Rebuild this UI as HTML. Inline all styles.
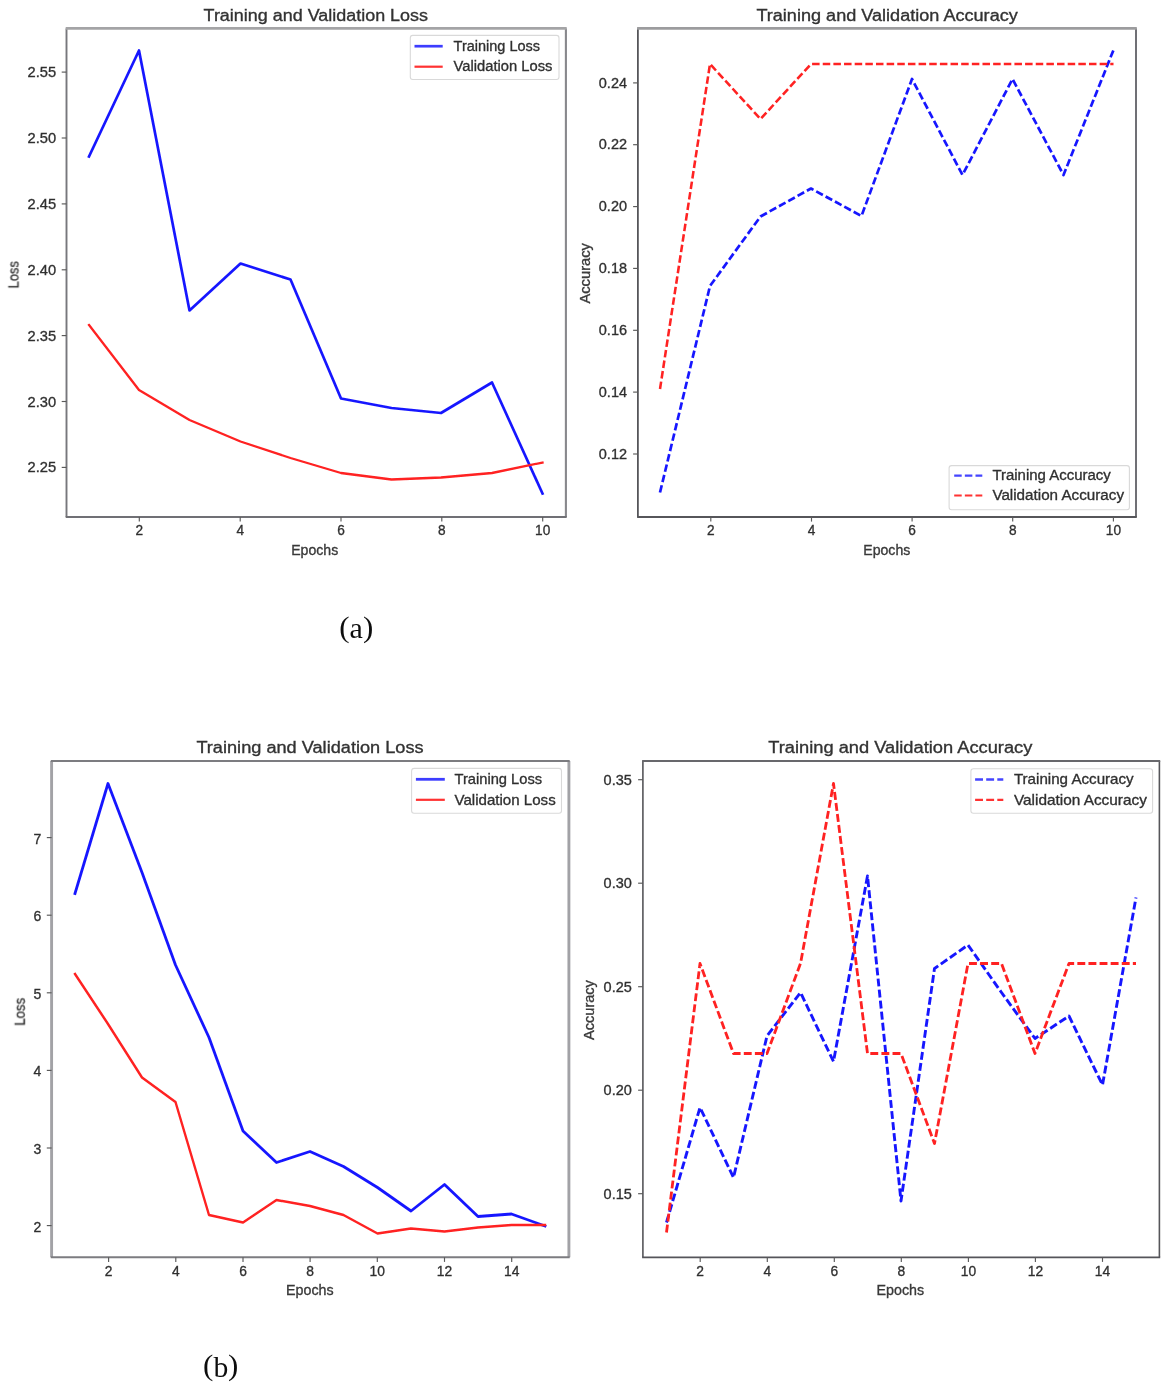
<!DOCTYPE html>
<html><head><meta charset="utf-8"><title>Training curves</title>
<style>html,body{margin:0;padding:0;background:#fff;}svg{display:block;}text{font-kerning:normal;}.w text{stroke:#303030;stroke-width:0.32px;}</style>
</head><body>
<svg width="1170" height="1388" viewBox="0 0 1170 1388">
<defs><filter id="soft" x="-2%" y="-2%" width="104%" height="104%"><feGaussianBlur stdDeviation="0.55"/></filter></defs>
<rect x="0" y="0" width="1170" height="1388" fill="#ffffff"/>
<g filter="url(#soft)" class="w">
<g>
<line x1="66.5" y1="28.4" x2="66.5" y2="517.0" stroke="#77777b" stroke-width="1.9"/>
<line x1="565.9" y1="28.4" x2="565.9" y2="517.0" stroke="#88888c" stroke-width="2.1"/>
<line x1="65.7" y1="28.4" x2="566.7" y2="28.4" stroke="#a4a4a6" stroke-width="2.6"/>
<line x1="65.7" y1="517.0" x2="566.7" y2="517.0" stroke="#707074" stroke-width="1.9"/>
<line x1="139.3" y1="517.0" x2="139.3" y2="521.6" stroke="#5a5a5a" stroke-width="1.15"/>
<text x="139.3" y="535.2" font-size="14.4" text-anchor="middle" fill="#303030" font-family='"Liberation Sans", sans-serif' textLength="7.6" lengthAdjust="spacingAndGlyphs">2</text>
<line x1="240.2" y1="517.0" x2="240.2" y2="521.6" stroke="#5a5a5a" stroke-width="1.15"/>
<text x="240.2" y="535.2" font-size="14.4" text-anchor="middle" fill="#303030" font-family='"Liberation Sans", sans-serif' textLength="7.6" lengthAdjust="spacingAndGlyphs">4</text>
<line x1="341.0" y1="517.0" x2="341.0" y2="521.6" stroke="#5a5a5a" stroke-width="1.15"/>
<text x="341.0" y="535.2" font-size="14.4" text-anchor="middle" fill="#303030" font-family='"Liberation Sans", sans-serif' textLength="7.6" lengthAdjust="spacingAndGlyphs">6</text>
<line x1="441.8" y1="517.0" x2="441.8" y2="521.6" stroke="#5a5a5a" stroke-width="1.15"/>
<text x="441.8" y="535.2" font-size="14.4" text-anchor="middle" fill="#303030" font-family='"Liberation Sans", sans-serif' textLength="7.6" lengthAdjust="spacingAndGlyphs">8</text>
<line x1="542.7" y1="517.0" x2="542.7" y2="521.6" stroke="#5a5a5a" stroke-width="1.15"/>
<text x="542.7" y="535.2" font-size="14.4" text-anchor="middle" fill="#303030" font-family='"Liberation Sans", sans-serif' textLength="15.2" lengthAdjust="spacingAndGlyphs">10</text>
<line x1="61.7" y1="467.4" x2="66.5" y2="467.4" stroke="#5a5a5a" stroke-width="1.15"/>
<text x="56.2" y="472.4" font-size="14.4" text-anchor="end" fill="#303030" font-family='"Liberation Sans", sans-serif' textLength="28.6" lengthAdjust="spacingAndGlyphs">2.25</text>
<line x1="61.7" y1="401.5" x2="66.5" y2="401.5" stroke="#5a5a5a" stroke-width="1.15"/>
<text x="56.2" y="406.6" font-size="14.4" text-anchor="end" fill="#303030" font-family='"Liberation Sans", sans-serif' textLength="28.6" lengthAdjust="spacingAndGlyphs">2.30</text>
<line x1="61.7" y1="335.6" x2="66.5" y2="335.6" stroke="#5a5a5a" stroke-width="1.15"/>
<text x="56.2" y="340.7" font-size="14.4" text-anchor="end" fill="#303030" font-family='"Liberation Sans", sans-serif' textLength="28.6" lengthAdjust="spacingAndGlyphs">2.35</text>
<line x1="61.7" y1="269.8" x2="66.5" y2="269.8" stroke="#5a5a5a" stroke-width="1.15"/>
<text x="56.2" y="274.8" font-size="14.4" text-anchor="end" fill="#303030" font-family='"Liberation Sans", sans-serif' textLength="28.6" lengthAdjust="spacingAndGlyphs">2.40</text>
<line x1="61.7" y1="203.9" x2="66.5" y2="203.9" stroke="#5a5a5a" stroke-width="1.15"/>
<text x="56.2" y="208.9" font-size="14.4" text-anchor="end" fill="#303030" font-family='"Liberation Sans", sans-serif' textLength="28.6" lengthAdjust="spacingAndGlyphs">2.45</text>
<line x1="61.7" y1="138.0" x2="66.5" y2="138.0" stroke="#5a5a5a" stroke-width="1.15"/>
<text x="56.2" y="143.0" font-size="14.4" text-anchor="end" fill="#303030" font-family='"Liberation Sans", sans-serif' textLength="28.6" lengthAdjust="spacingAndGlyphs">2.50</text>
<line x1="61.7" y1="72.1" x2="66.5" y2="72.1" stroke="#5a5a5a" stroke-width="1.15"/>
<text x="56.2" y="77.1" font-size="14.4" text-anchor="end" fill="#303030" font-family='"Liberation Sans", sans-serif' textLength="28.6" lengthAdjust="spacingAndGlyphs">2.55</text>
<text x="314.7" y="554.7" font-size="14.4" text-anchor="middle" fill="#3c3c3c" font-family='"Liberation Sans", sans-serif' textLength="47.0" lengthAdjust="spacingAndGlyphs">Epochs</text>
<text x="18.3" y="274.8" font-size="14.4" text-anchor="middle" fill="#3c3c3c" font-family='"Liberation Sans", sans-serif' textLength="27.0" lengthAdjust="spacingAndGlyphs" transform="rotate(-90 18.3 274.8)">Loss</text>
<text x="203.6" y="20.7" font-size="15.6" text-anchor="start" fill="#333" font-family='"Liberation Sans", sans-serif' textLength="224.4" lengthAdjust="spacingAndGlyphs">Training and Validation Loss</text>
<polyline points="89.0,156.5 139.0,50.5 189.5,310.5 240.5,263.5 290.5,279.5 341.0,398.5 391.5,408.0 441.0,413.0 492.0,382.5 542.5,493.5" fill="none" stroke="#1818ff" stroke-width="2.7" stroke-linejoin="round" stroke-linecap="square"/>
<polyline points="89.0,325.0 139.0,390.0 189.5,420.0 240.5,441.5 290.5,458.0 341.0,473.0 391.5,479.5 441.0,477.5 492.0,473.0 542.5,462.5" fill="none" stroke="#ff2020" stroke-width="2.3" stroke-linejoin="round" stroke-linecap="square"/>
<rect x="410.3" y="35.4" width="148.7" height="44.1" rx="2.5" fill="#fff" fill-opacity="0.8" stroke="#d9d9d9" stroke-width="1.1"/>
<line x1="414.5" y1="46.2" x2="442.7" y2="46.2" stroke="#3c3cff" stroke-width="2.7"/>
<text x="453.6" y="50.9" font-size="14.0" text-anchor="start" fill="#303030" font-family='"Liberation Sans", sans-serif' textLength="86.5" lengthAdjust="spacingAndGlyphs">Training Loss</text>
<line x1="414.5" y1="66.7" x2="442.7" y2="66.7" stroke="#ff3030" stroke-width="2.2"/>
<text x="453.6" y="71.4" font-size="14.0" text-anchor="start" fill="#303030" font-family='"Liberation Sans", sans-serif' textLength="98.8" lengthAdjust="spacingAndGlyphs">Validation Loss</text>
</g>
<g>
<line x1="637.9" y1="28.4" x2="637.9" y2="517.0" stroke="#4e4e52" stroke-width="1.7"/>
<line x1="1136.0" y1="28.4" x2="1136.0" y2="517.0" stroke="#707074" stroke-width="2.0"/>
<line x1="637.1" y1="28.4" x2="1136.8" y2="28.4" stroke="#9c9c9e" stroke-width="2.6"/>
<line x1="637.1" y1="517.0" x2="1136.8" y2="517.0" stroke="#56565a" stroke-width="1.8"/>
<line x1="710.8" y1="517.0" x2="710.8" y2="521.6" stroke="#5a5a5a" stroke-width="1.15"/>
<text x="710.8" y="535.2" font-size="14.4" text-anchor="middle" fill="#303030" font-family='"Liberation Sans", sans-serif' textLength="7.6" lengthAdjust="spacingAndGlyphs">2</text>
<line x1="811.5" y1="517.0" x2="811.5" y2="521.6" stroke="#5a5a5a" stroke-width="1.15"/>
<text x="811.5" y="535.2" font-size="14.4" text-anchor="middle" fill="#303030" font-family='"Liberation Sans", sans-serif' textLength="7.6" lengthAdjust="spacingAndGlyphs">4</text>
<line x1="912.1" y1="517.0" x2="912.1" y2="521.6" stroke="#5a5a5a" stroke-width="1.15"/>
<text x="912.1" y="535.2" font-size="14.4" text-anchor="middle" fill="#303030" font-family='"Liberation Sans", sans-serif' textLength="7.6" lengthAdjust="spacingAndGlyphs">6</text>
<line x1="1012.7" y1="517.0" x2="1012.7" y2="521.6" stroke="#5a5a5a" stroke-width="1.15"/>
<text x="1012.7" y="535.2" font-size="14.4" text-anchor="middle" fill="#303030" font-family='"Liberation Sans", sans-serif' textLength="7.6" lengthAdjust="spacingAndGlyphs">8</text>
<line x1="1113.4" y1="517.0" x2="1113.4" y2="521.6" stroke="#5a5a5a" stroke-width="1.15"/>
<text x="1113.4" y="535.2" font-size="14.4" text-anchor="middle" fill="#303030" font-family='"Liberation Sans", sans-serif' textLength="15.2" lengthAdjust="spacingAndGlyphs">10</text>
<line x1="633.1" y1="454.0" x2="637.9" y2="454.0" stroke="#5a5a5a" stroke-width="1.15"/>
<text x="627.0" y="458.6" font-size="14.4" text-anchor="end" fill="#303030" font-family='"Liberation Sans", sans-serif' textLength="28.2" lengthAdjust="spacingAndGlyphs">0.12</text>
<line x1="633.1" y1="392.1" x2="637.9" y2="392.1" stroke="#5a5a5a" stroke-width="1.15"/>
<text x="627.0" y="396.8" font-size="14.4" text-anchor="end" fill="#303030" font-family='"Liberation Sans", sans-serif' textLength="28.2" lengthAdjust="spacingAndGlyphs">0.14</text>
<line x1="633.1" y1="330.3" x2="637.9" y2="330.3" stroke="#5a5a5a" stroke-width="1.15"/>
<text x="627.0" y="334.9" font-size="14.4" text-anchor="end" fill="#303030" font-family='"Liberation Sans", sans-serif' textLength="28.2" lengthAdjust="spacingAndGlyphs">0.16</text>
<line x1="633.1" y1="268.4" x2="637.9" y2="268.4" stroke="#5a5a5a" stroke-width="1.15"/>
<text x="627.0" y="273.1" font-size="14.4" text-anchor="end" fill="#303030" font-family='"Liberation Sans", sans-serif' textLength="28.2" lengthAdjust="spacingAndGlyphs">0.18</text>
<line x1="633.1" y1="206.6" x2="637.9" y2="206.6" stroke="#5a5a5a" stroke-width="1.15"/>
<text x="627.0" y="211.2" font-size="14.4" text-anchor="end" fill="#303030" font-family='"Liberation Sans", sans-serif' textLength="28.2" lengthAdjust="spacingAndGlyphs">0.20</text>
<line x1="633.1" y1="144.7" x2="637.9" y2="144.7" stroke="#5a5a5a" stroke-width="1.15"/>
<text x="627.0" y="149.4" font-size="14.4" text-anchor="end" fill="#303030" font-family='"Liberation Sans", sans-serif' textLength="28.2" lengthAdjust="spacingAndGlyphs">0.22</text>
<line x1="633.1" y1="82.9" x2="637.9" y2="82.9" stroke="#5a5a5a" stroke-width="1.15"/>
<text x="627.0" y="87.5" font-size="14.4" text-anchor="end" fill="#303030" font-family='"Liberation Sans", sans-serif' textLength="28.2" lengthAdjust="spacingAndGlyphs">0.24</text>
<text x="886.8" y="554.7" font-size="14.4" text-anchor="middle" fill="#3c3c3c" font-family='"Liberation Sans", sans-serif' textLength="47.0" lengthAdjust="spacingAndGlyphs">Epochs</text>
<text x="589.6" y="273.3" font-size="14.4" text-anchor="middle" fill="#3c3c3c" font-family='"Liberation Sans", sans-serif' textLength="60.5" lengthAdjust="spacingAndGlyphs" transform="rotate(-90 589.6 273.3)">Accuracy</text>
<text x="756.4" y="20.5" font-size="15.6" text-anchor="start" fill="#333" font-family='"Liberation Sans", sans-serif' textLength="261.4" lengthAdjust="spacingAndGlyphs">Training and Validation Accuracy</text>
<polyline points="660.0,492.5 710.0,286.0 760.5,216.5 811.0,188.5 861.5,216.0 912.0,79.0 962.5,175.0 1012.5,79.0 1063.5,175.0 1113.5,50.0" fill="none" stroke="#1818ff" stroke-width="2.7" stroke-linejoin="round" stroke-linecap="butt" stroke-dasharray="7.5 3.15"/>
<polyline points="660.0,389.0 710.0,64.0 760.5,119.0 811.0,64.0 1113.5,64.0" fill="none" stroke="#ff2020" stroke-width="2.55" stroke-linejoin="round" stroke-linecap="butt" stroke-dasharray="7.5 3.15"/>
<rect x="949.1" y="465.6" width="180.3" height="44.1" rx="2.5" fill="#fff" fill-opacity="0.8" stroke="#d9d9d9" stroke-width="1.1"/>
<line x1="954.2" y1="475.6" x2="982.3" y2="475.6" stroke="#4444ff" stroke-width="2.4" stroke-dasharray="7.5 3.15"/>
<text x="992.4" y="480.4" font-size="14.0" text-anchor="start" fill="#303030" font-family='"Liberation Sans", sans-serif' textLength="118.4" lengthAdjust="spacingAndGlyphs">Training Accuracy</text>
<line x1="954.2" y1="495.5" x2="982.3" y2="495.5" stroke="#ff3030" stroke-width="2.2" stroke-dasharray="7.5 3.15"/>
<text x="992.4" y="500.2" font-size="14.0" text-anchor="start" fill="#303030" font-family='"Liberation Sans", sans-serif' textLength="131.6" lengthAdjust="spacingAndGlyphs">Validation Accuracy</text>
</g>
<g>
<line x1="51.6" y1="761.0" x2="51.6" y2="1257.3" stroke="#a2a2a6" stroke-width="2.9"/>
<line x1="568.9" y1="761.0" x2="568.9" y2="1257.3" stroke="#a2a2a6" stroke-width="2.9"/>
<line x1="50.8" y1="761.0" x2="569.7" y2="761.0" stroke="#7c7c80" stroke-width="2.2"/>
<line x1="50.8" y1="1257.3" x2="569.7" y2="1257.3" stroke="#7c7c80" stroke-width="2.1"/>
<line x1="108.6" y1="1257.3" x2="108.6" y2="1261.9" stroke="#5a5a5a" stroke-width="1.15"/>
<text x="108.6" y="1275.8" font-size="14.5" text-anchor="middle" fill="#303030" font-family='"Liberation Sans", sans-serif' textLength="7.7" lengthAdjust="spacingAndGlyphs">2</text>
<line x1="175.8" y1="1257.3" x2="175.8" y2="1261.9" stroke="#5a5a5a" stroke-width="1.15"/>
<text x="175.8" y="1275.8" font-size="14.5" text-anchor="middle" fill="#303030" font-family='"Liberation Sans", sans-serif' textLength="7.7" lengthAdjust="spacingAndGlyphs">4</text>
<line x1="243.0" y1="1257.3" x2="243.0" y2="1261.9" stroke="#5a5a5a" stroke-width="1.15"/>
<text x="243.0" y="1275.8" font-size="14.5" text-anchor="middle" fill="#303030" font-family='"Liberation Sans", sans-serif' textLength="7.7" lengthAdjust="spacingAndGlyphs">6</text>
<line x1="310.1" y1="1257.3" x2="310.1" y2="1261.9" stroke="#5a5a5a" stroke-width="1.15"/>
<text x="310.1" y="1275.8" font-size="14.5" text-anchor="middle" fill="#303030" font-family='"Liberation Sans", sans-serif' textLength="7.7" lengthAdjust="spacingAndGlyphs">8</text>
<line x1="377.3" y1="1257.3" x2="377.3" y2="1261.9" stroke="#5a5a5a" stroke-width="1.15"/>
<text x="377.3" y="1275.8" font-size="14.5" text-anchor="middle" fill="#303030" font-family='"Liberation Sans", sans-serif' textLength="15.4" lengthAdjust="spacingAndGlyphs">10</text>
<line x1="444.5" y1="1257.3" x2="444.5" y2="1261.9" stroke="#5a5a5a" stroke-width="1.15"/>
<text x="444.5" y="1275.8" font-size="14.5" text-anchor="middle" fill="#303030" font-family='"Liberation Sans", sans-serif' textLength="15.4" lengthAdjust="spacingAndGlyphs">12</text>
<line x1="511.7" y1="1257.3" x2="511.7" y2="1261.9" stroke="#5a5a5a" stroke-width="1.15"/>
<text x="511.7" y="1275.8" font-size="14.5" text-anchor="middle" fill="#303030" font-family='"Liberation Sans", sans-serif' textLength="15.4" lengthAdjust="spacingAndGlyphs">14</text>
<line x1="46.8" y1="1225.6" x2="51.6" y2="1225.6" stroke="#5a5a5a" stroke-width="1.15"/>
<text x="41.4" y="1231.5" font-size="14.5" text-anchor="end" fill="#303030" font-family='"Liberation Sans", sans-serif' textLength="7.8" lengthAdjust="spacingAndGlyphs">2</text>
<line x1="46.8" y1="1148.0" x2="51.6" y2="1148.0" stroke="#5a5a5a" stroke-width="1.15"/>
<text x="41.4" y="1153.9" font-size="14.5" text-anchor="end" fill="#303030" font-family='"Liberation Sans", sans-serif' textLength="7.8" lengthAdjust="spacingAndGlyphs">3</text>
<line x1="46.8" y1="1070.4" x2="51.6" y2="1070.4" stroke="#5a5a5a" stroke-width="1.15"/>
<text x="41.4" y="1076.3" font-size="14.5" text-anchor="end" fill="#303030" font-family='"Liberation Sans", sans-serif' textLength="7.8" lengthAdjust="spacingAndGlyphs">4</text>
<line x1="46.8" y1="992.8" x2="51.6" y2="992.8" stroke="#5a5a5a" stroke-width="1.15"/>
<text x="41.4" y="998.7" font-size="14.5" text-anchor="end" fill="#303030" font-family='"Liberation Sans", sans-serif' textLength="7.8" lengthAdjust="spacingAndGlyphs">5</text>
<line x1="46.8" y1="915.2" x2="51.6" y2="915.2" stroke="#5a5a5a" stroke-width="1.15"/>
<text x="41.4" y="921.1" font-size="14.5" text-anchor="end" fill="#303030" font-family='"Liberation Sans", sans-serif' textLength="7.8" lengthAdjust="spacingAndGlyphs">6</text>
<line x1="46.8" y1="837.6" x2="51.6" y2="837.6" stroke="#5a5a5a" stroke-width="1.15"/>
<text x="41.4" y="843.5" font-size="14.5" text-anchor="end" fill="#303030" font-family='"Liberation Sans", sans-serif' textLength="7.8" lengthAdjust="spacingAndGlyphs">7</text>
<text x="309.8" y="1295.0" font-size="14.5" text-anchor="middle" fill="#3c3c3c" font-family='"Liberation Sans", sans-serif' textLength="47.6" lengthAdjust="spacingAndGlyphs">Epochs</text>
<text x="24.6" y="1011.8" font-size="14.5" text-anchor="middle" fill="#3c3c3c" font-family='"Liberation Sans", sans-serif' textLength="27.8" lengthAdjust="spacingAndGlyphs" transform="rotate(-90 24.6 1011.8)">Loss</text>
<text x="196.4" y="752.7" font-size="15.8" text-anchor="start" fill="#333" font-family='"Liberation Sans", sans-serif' textLength="227.2" lengthAdjust="spacingAndGlyphs">Training and Validation Loss</text>
<polyline points="75.0,893.5 108.0,783.5 142.0,872.5 175.5,965.0 209.0,1037.5 243.0,1131.0 276.5,1162.5 310.0,1151.5 343.5,1166.5 377.5,1187.5 411.0,1211.0 444.5,1184.5 478.0,1216.5 511.5,1214.0 545.0,1226.0" fill="none" stroke="#1818ff" stroke-width="2.8" stroke-linejoin="round" stroke-linecap="square"/>
<polyline points="75.0,974.0 108.0,1024.0 142.0,1077.5 175.5,1102.0 209.0,1215.0 243.0,1222.5 276.5,1200.0 310.0,1206.0 343.5,1215.0 377.5,1233.5 411.0,1228.5 444.5,1231.5 478.0,1227.5 511.5,1225.0 545.0,1225.0" fill="none" stroke="#ff2020" stroke-width="2.4" stroke-linejoin="round" stroke-linecap="square"/>
<rect x="411.6" y="768.4" width="149.9" height="44.8" rx="2.5" fill="#fff" fill-opacity="0.8" stroke="#d9d9d9" stroke-width="1.1"/>
<line x1="415.9" y1="779.3" x2="444.8" y2="779.3" stroke="#3c3cff" stroke-width="2.8"/>
<text x="454.5" y="784.1" font-size="14.1" text-anchor="start" fill="#303030" font-family='"Liberation Sans", sans-serif' textLength="87.6" lengthAdjust="spacingAndGlyphs">Training Loss</text>
<line x1="415.9" y1="799.8" x2="444.8" y2="799.8" stroke="#ff3030" stroke-width="2.2"/>
<text x="454.5" y="804.6" font-size="14.1" text-anchor="start" fill="#303030" font-family='"Liberation Sans", sans-serif' textLength="101.2" lengthAdjust="spacingAndGlyphs">Validation Loss</text>
</g>
<g>
<line x1="642.9" y1="761.1" x2="642.9" y2="1257.3" stroke="#55555a" stroke-width="1.6"/>
<line x1="1159.4" y1="761.1" x2="1159.4" y2="1257.3" stroke="#55555a" stroke-width="1.6"/>
<line x1="642.1" y1="761.1" x2="1160.2" y2="761.1" stroke="#68686c" stroke-width="2.0"/>
<line x1="642.1" y1="1257.3" x2="1160.2" y2="1257.3" stroke="#55555a" stroke-width="1.7"/>
<line x1="700.2" y1="1257.3" x2="700.2" y2="1261.9" stroke="#5a5a5a" stroke-width="1.15"/>
<text x="700.2" y="1275.8" font-size="14.5" text-anchor="middle" fill="#303030" font-family='"Liberation Sans", sans-serif' textLength="7.7" lengthAdjust="spacingAndGlyphs">2</text>
<line x1="767.3" y1="1257.3" x2="767.3" y2="1261.9" stroke="#5a5a5a" stroke-width="1.15"/>
<text x="767.3" y="1275.8" font-size="14.5" text-anchor="middle" fill="#303030" font-family='"Liberation Sans", sans-serif' textLength="7.7" lengthAdjust="spacingAndGlyphs">4</text>
<line x1="834.3" y1="1257.3" x2="834.3" y2="1261.9" stroke="#5a5a5a" stroke-width="1.15"/>
<text x="834.3" y="1275.8" font-size="14.5" text-anchor="middle" fill="#303030" font-family='"Liberation Sans", sans-serif' textLength="7.7" lengthAdjust="spacingAndGlyphs">6</text>
<line x1="901.3" y1="1257.3" x2="901.3" y2="1261.9" stroke="#5a5a5a" stroke-width="1.15"/>
<text x="901.3" y="1275.8" font-size="14.5" text-anchor="middle" fill="#303030" font-family='"Liberation Sans", sans-serif' textLength="7.7" lengthAdjust="spacingAndGlyphs">8</text>
<line x1="968.4" y1="1257.3" x2="968.4" y2="1261.9" stroke="#5a5a5a" stroke-width="1.15"/>
<text x="968.4" y="1275.8" font-size="14.5" text-anchor="middle" fill="#303030" font-family='"Liberation Sans", sans-serif' textLength="15.4" lengthAdjust="spacingAndGlyphs">10</text>
<line x1="1035.4" y1="1257.3" x2="1035.4" y2="1261.9" stroke="#5a5a5a" stroke-width="1.15"/>
<text x="1035.4" y="1275.8" font-size="14.5" text-anchor="middle" fill="#303030" font-family='"Liberation Sans", sans-serif' textLength="15.4" lengthAdjust="spacingAndGlyphs">12</text>
<line x1="1102.5" y1="1257.3" x2="1102.5" y2="1261.9" stroke="#5a5a5a" stroke-width="1.15"/>
<text x="1102.5" y="1275.8" font-size="14.5" text-anchor="middle" fill="#303030" font-family='"Liberation Sans", sans-serif' textLength="15.4" lengthAdjust="spacingAndGlyphs">14</text>
<line x1="638.1" y1="1193.7" x2="642.9" y2="1193.7" stroke="#5a5a5a" stroke-width="1.15"/>
<text x="631.8" y="1198.6" font-size="14.5" text-anchor="end" fill="#303030" font-family='"Liberation Sans", sans-serif' textLength="28.2" lengthAdjust="spacingAndGlyphs">0.15</text>
<line x1="638.1" y1="1090.2" x2="642.9" y2="1090.2" stroke="#5a5a5a" stroke-width="1.15"/>
<text x="631.8" y="1095.1" font-size="14.5" text-anchor="end" fill="#303030" font-family='"Liberation Sans", sans-serif' textLength="28.2" lengthAdjust="spacingAndGlyphs">0.20</text>
<line x1="638.1" y1="986.7" x2="642.9" y2="986.7" stroke="#5a5a5a" stroke-width="1.15"/>
<text x="631.8" y="991.6" font-size="14.5" text-anchor="end" fill="#303030" font-family='"Liberation Sans", sans-serif' textLength="28.2" lengthAdjust="spacingAndGlyphs">0.25</text>
<line x1="638.1" y1="883.2" x2="642.9" y2="883.2" stroke="#5a5a5a" stroke-width="1.15"/>
<text x="631.8" y="888.1" font-size="14.5" text-anchor="end" fill="#303030" font-family='"Liberation Sans", sans-serif' textLength="28.2" lengthAdjust="spacingAndGlyphs">0.30</text>
<line x1="638.1" y1="779.7" x2="642.9" y2="779.7" stroke="#5a5a5a" stroke-width="1.15"/>
<text x="631.8" y="784.6" font-size="14.5" text-anchor="end" fill="#303030" font-family='"Liberation Sans", sans-serif' textLength="28.2" lengthAdjust="spacingAndGlyphs">0.35</text>
<text x="900.3" y="1295.0" font-size="14.5" text-anchor="middle" fill="#3c3c3c" font-family='"Liberation Sans", sans-serif' textLength="47.6" lengthAdjust="spacingAndGlyphs">Epochs</text>
<text x="594.3" y="1010.0" font-size="14.5" text-anchor="middle" fill="#3c3c3c" font-family='"Liberation Sans", sans-serif' textLength="59.8" lengthAdjust="spacingAndGlyphs" transform="rotate(-90 594.3 1010.0)">Accuracy</text>
<text x="768.2" y="752.6" font-size="15.8" text-anchor="start" fill="#333" font-family='"Liberation Sans", sans-serif' textLength="264.2" lengthAdjust="spacingAndGlyphs">Training and Validation Accuracy</text>
<polyline points="666.5,1222.5 700.0,1107.5 733.5,1177.5 767.0,1036.0 800.5,992.5 833.5,1061.5 867.5,876.0 901.0,1201.0 934.5,968.5 968.0,945.0 1001.5,992.5 1035.0,1038.5 1069.0,1016.0 1102.5,1085.0 1136.0,897.5" fill="none" stroke="#1818ff" stroke-width="2.9" stroke-linejoin="round" stroke-linecap="butt" stroke-dasharray="7.9 3.2"/>
<polyline points="666.5,1232.5 700.0,963.5 733.5,1053.5 767.0,1053.5 800.5,963.5 833.5,783.5 867.5,1053.5 901.0,1053.5 934.5,1143.5 968.0,963.5 1001.5,963.5 1035.0,1053.5 1069.0,963.5 1102.5,963.5 1136.0,963.5" fill="none" stroke="#ff2020" stroke-width="2.8" stroke-linejoin="round" stroke-linecap="butt" stroke-dasharray="7.9 3.2"/>
<rect x="970.9" y="768.7" width="181.7" height="44.5" rx="2.5" fill="#fff" fill-opacity="0.8" stroke="#d9d9d9" stroke-width="1.1"/>
<line x1="975.1" y1="779.5" x2="1003.3" y2="779.5" stroke="#4444ff" stroke-width="2.5" stroke-dasharray="7.9 3.2"/>
<text x="1013.9" y="784.1" font-size="14.1" text-anchor="start" fill="#303030" font-family='"Liberation Sans", sans-serif' textLength="119.8" lengthAdjust="spacingAndGlyphs">Training Accuracy</text>
<line x1="975.1" y1="799.8" x2="1003.3" y2="799.8" stroke="#ff3030" stroke-width="2.2" stroke-dasharray="7.9 3.2"/>
<text x="1013.9" y="804.6" font-size="14.1" text-anchor="start" fill="#303030" font-family='"Liberation Sans", sans-serif' textLength="133.0" lengthAdjust="spacingAndGlyphs">Validation Accuracy</text>
</g>
</g>
<g filter="url(#soft)" fill="#111" font-family='"Liberation Serif", serif'>
<text transform="translate(339.30 636.80) scale(1 0.935)" x="0" y="0" font-size="31">(</text>
<text x="349.50" y="637.70" font-size="30">a</text>
<text transform="translate(363.00 636.80) scale(1 0.935)" x="0" y="0" font-size="31">)</text>
</g>
<g filter="url(#soft)" fill="#111" font-family='"Liberation Serif", serif'>
<text transform="translate(203.00 1374.90) scale(1 0.915)" x="0" y="0" font-size="31">(</text>
<text x="213.40" y="1376.80" font-size="29.6">b</text>
<text transform="translate(228.00 1374.90) scale(1 0.915)" x="0" y="0" font-size="31">)</text>
</g>
</svg>
</body></html>
